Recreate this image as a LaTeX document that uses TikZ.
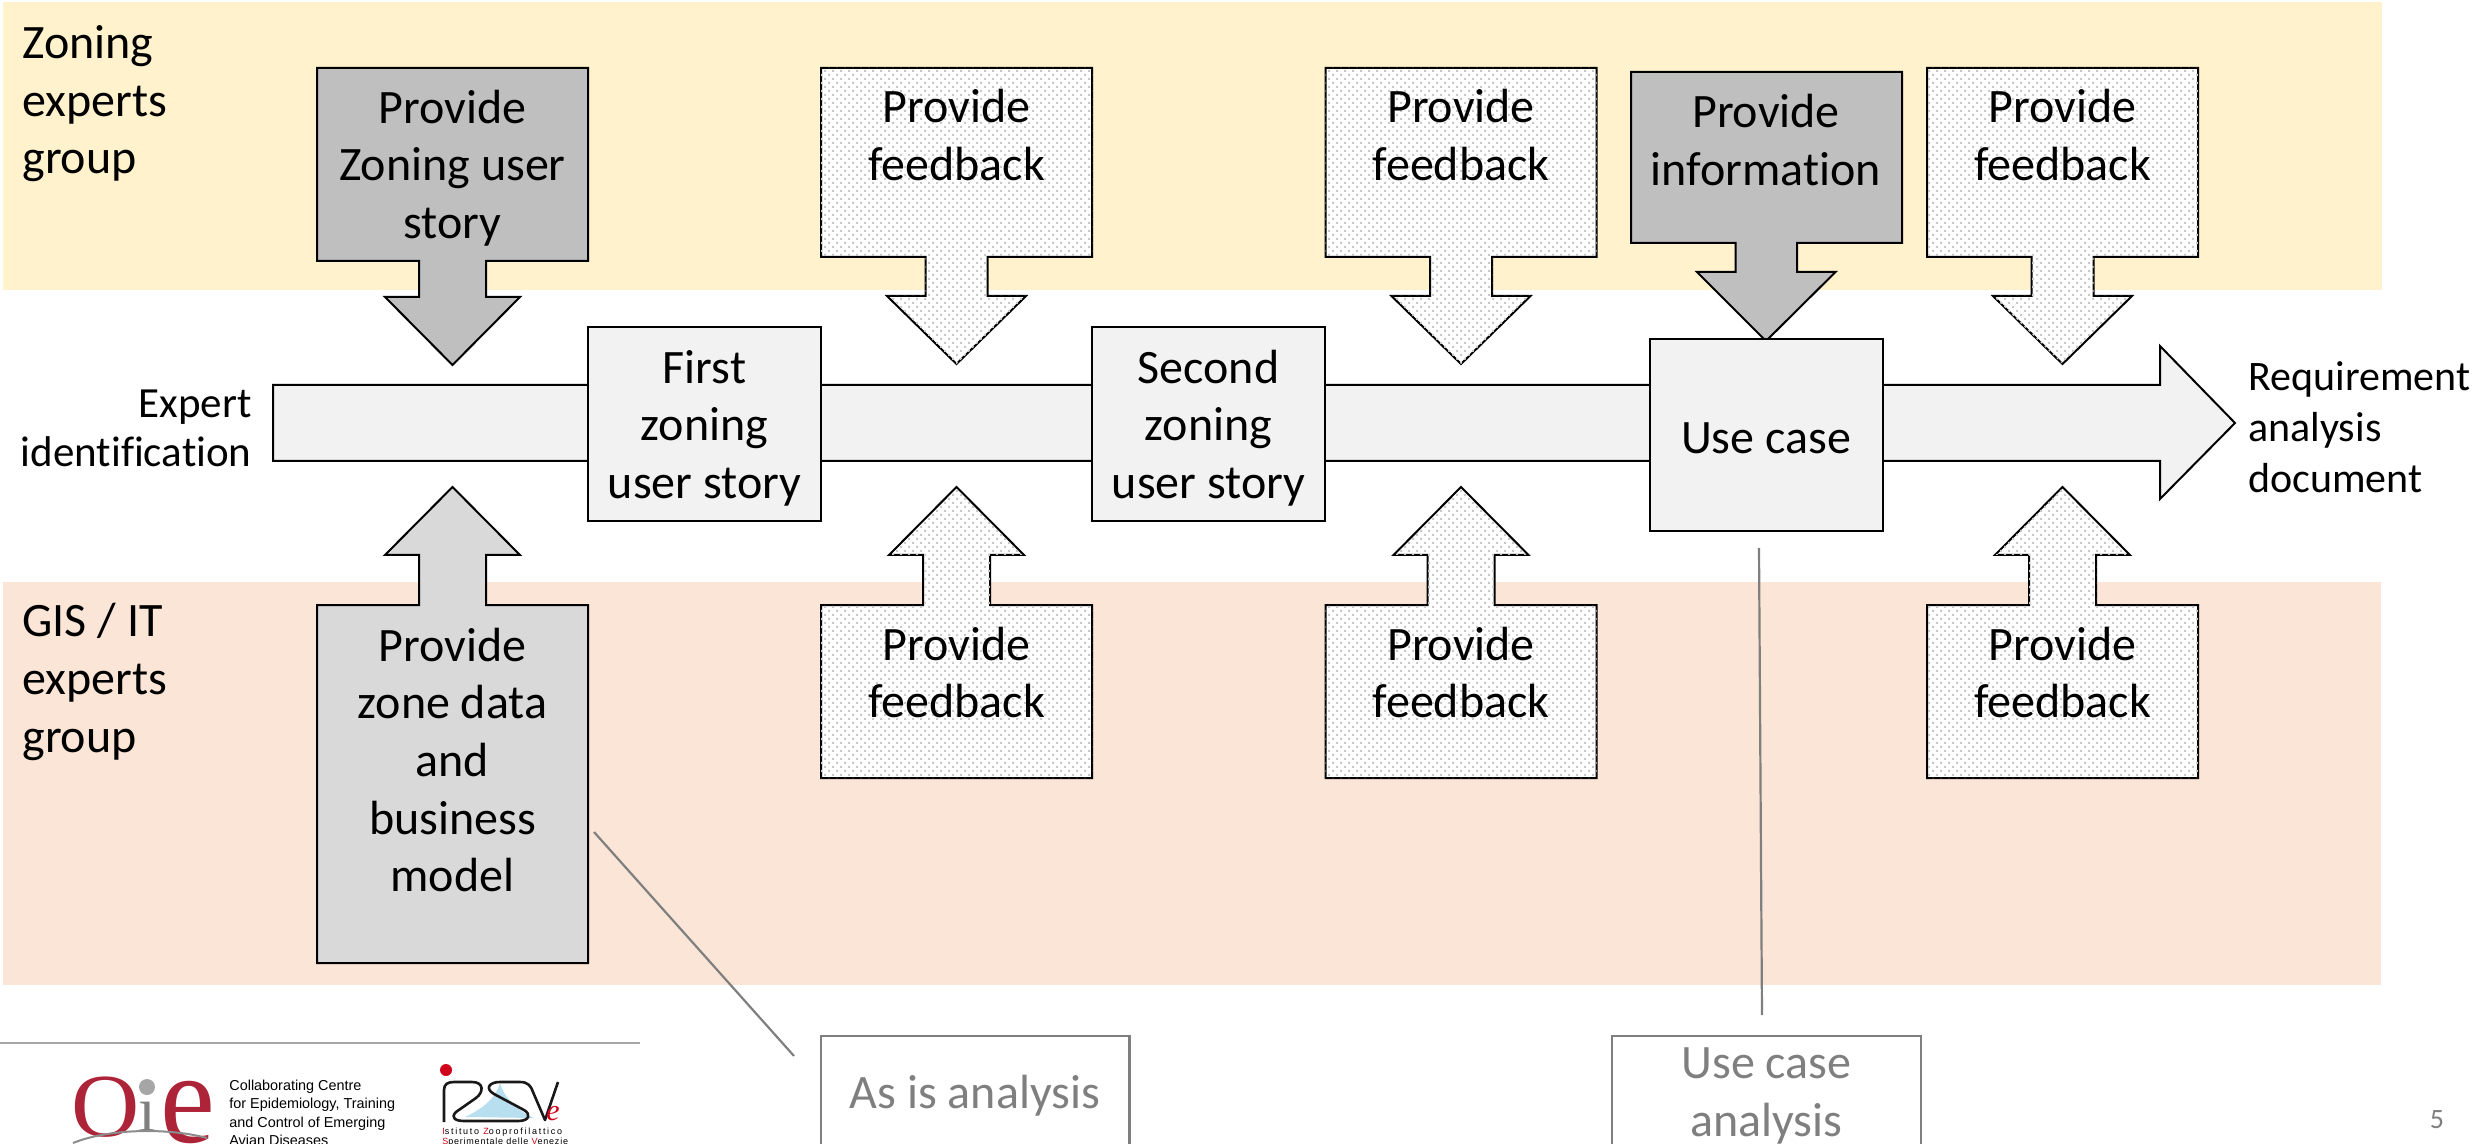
\documentclass[tikz,border=0pt]{standalone}
\usepackage{fontspec}
\setmainfont{Carlito}[Ligatures=NoCommon]
\newfontfamily\arialf{Liberation Sans}
\newfontfamily\serifl{Liberation Serif}
\newfontfamily\spacedA[LetterSpace=19]{Liberation Sans}
\newfontfamily\spacedB[LetterSpace=8.5]{Liberation Sans}
\usetikzlibrary{patterns}
\definecolor{bandY}{HTML}{FFF2CC}
\definecolor{bandO}{HTML}{FBE5D6}
\definecolor{darkG}{HTML}{BFBFBF}
\definecolor{dotG}{HTML}{C8C8C8}
\definecolor{midG}{HTML}{D9D9D9}
\definecolor{liteG}{HTML}{F2F2F2}
\definecolor{capG}{HTML}{7F7F7F}
\definecolor{oieR}{HTML}{AD2438}
\definecolor{izsR}{HTML}{D0021B}
\definecolor{izsB}{HTML}{B8DFF0}
\pgfdeclarepatternformonly{stip}{\pgfqpoint{-0.5pt}{-0.5pt}}{\pgfqpoint{3.5pt}{3.5pt}}{\pgfqpoint{4pt}{4pt}}{%
  \pgfpathrectangle{\pgfqpoint{0pt}{0pt}}{\pgfqpoint{1pt}{1pt}}%
  \pgfpathrectangle{\pgfqpoint{2pt}{2pt}}{\pgfqpoint{1pt}{1pt}}%
  \pgfusepath{fill}}
\tikzset{
  outl/.style={draw=black,line width=1pt,line join=miter},
  solidbox/.style={outl,fill=darkG},
  lowbox/.style={outl,fill=midG},
  dotted box/.style={outl,fill=white,postaction={pattern=stip,pattern color=dotG}},
  stagebox/.style={draw=black,line width=1pt,fill=liteG,inner sep=0pt,minimum width=116.5pt},
  boxtxt/.style={align=center,inner sep=0pt,font=\fontsize{24}{28.8}\selectfont},
  sidetxt/.style={align=left,inner sep=0pt,font=\fontsize{24}{28.8}\selectfont},
  graytxt/.style={boxtxt,text=capG},
  graybox/.style={draw=capG,line width=1.25pt},
  leader/.style={draw=capG,line width=1.1pt},
}
% style, cx, halfwidth, top, boxbottom
\newcommand\dcall[5]{\path[#1] ({#2-#3},#4) -- ({#2+#3},#4) -- ({#2+#3},#5) -- ({#2+31},#5) -- ({#2+31},{#5+39}) -- ({#2+69.5},{#5+39}) -- (#2,{#5+107}) -- ({#2-69.5},{#5+39}) -- ({#2-31},{#5+39}) -- ({#2-31},#5) -- ({#2-#3},#5) -- cycle;}
% style, cx, bottom
\newcommand\ucall[3]{\path[#1] (#2-135.5,#3) -- (#2+135.5,#3) -- (#2+135.5,605) -- (#2+33.5,605) -- (#2+33.5,555) -- (#2+67.5,555) -- (#2,487) -- (#2-67.5,555) -- (#2-33.5,555) -- (#2-33.5,605) -- (#2-135.5,605) -- cycle;}
\begin{document}
\begin{tikzpicture}[x=0.5pt,y=-0.5pt]
\useasboundingbox (0,0) rectangle (2491,1144);
\clip (0,0) rectangle (2491,1144);
% bands
\fill[bandY] (3,2) rectangle (2382,290);
\fill[bandO] (3,582) rectangle (2381,985);
% main arrow
\path[outl,fill=liteG] (273,385) -- (2160,385) -- (2160,346) -- (2235,423) -- (2160,499) -- (2160,461) -- (273,461) -- cycle;
% zoning callout
\path[solidbox] (317,68) -- (588,68) -- (588,261) -- (486,261) -- (486,297) -- (520,297) -- (452.5,365) -- (385,297) -- (419,297) -- (419,261) -- (317,261) -- cycle;
\node[boxtxt] (zoning) at (452.5,168) {Provide\\Zoning user\\story};
% feedback top
\dcall{dotted box}{956.5}{135.5}{68}{257}
\node[boxtxt] (fb1) at (956.5,135) {Provide\\feedback};
\dcall{dotted box}{1461}{135.5}{68}{257}
\node[boxtxt] (fb2) at (1461,135) {Provide\\feedback};
\dcall{dotted box}{2062.5}{135.5}{68}{257}
\node[boxtxt] (fb3) at (2062.5,135) {Provide\\feedback};
% information callout
\path[solidbox] (1631,72) -- (1902,72) -- (1902,243) -- (1797,243) -- (1797,272) -- (1835.5,272) -- (1766,341) -- (1697,272) -- (1735.5,272) -- (1735.5,243) -- (1631,243) -- cycle;
% stage boxes
\node[stagebox,minimum height=97pt] (first) at (704.5,424) {};
\node[boxtxt] (firstt) at (704.5,428) {First\\zoning\\user story};
\node[stagebox,minimum height=97pt] (second) at (1208.5,424) {};
\node[boxtxt] (secondt) at (1208.5,428) {Second\\zoning\\user story};
\node[stagebox,minimum height=96pt] (usecase) at (1766,435) {};
\node[boxtxt] (usecaset) at (1766,438) {Use case};
\node[boxtxt] (info) at (1766,140) {Provide\\information};
% lower callouts
\ucall{lowbox}{452.5}{963}
\node[boxtxt] (zone) at (452.5,760) {Provide\\zone data\\and\\business\\model};
\ucall{dotted box}{956.5}{778}
\node[boxtxt] (lb1) at (956.5,672.5) {Provide\\feedback};
\ucall{dotted box}{1461}{778}
\node[boxtxt] (lb2) at (1461,672.5) {Provide\\feedback};
\ucall{dotted box}{2062.5}{778}
\node[boxtxt] (lb3) at (2062.5,672.5) {Provide\\feedback};
% side labels
\node[sidetxt,anchor=west] (zlabel) at (22,104) {Zoning\\experts\\group};
\node[sidetxt,anchor=west] (glabel) at (22,682) {GIS / IT\\experts\\group};
\node[align=right,inner sep=0pt,anchor=east,font=\fontsize{21.5}{24.6}\selectfont] (expert) at (252,428) {Expert\\identification};
\node[align=left,inner sep=0pt,anchor=west,font=\fontsize{21}{25.5}\selectfont] (req) at (2248,427) {Requirement\\analysis\\document};
% bottom grey boxes
\draw[graybox] (821,1200) -- (821,1036) -- (1129.5,1036) -- (1129.5,1200);
\node[graytxt] (asis) at (975,1096) {As is analysis};
\draw[graybox] (1612,1200) -- (1612,1036) -- (1921,1036) -- (1921,1200);
\node[graytxt] (uca) at (1766.5,1096) {Use case\\analysis};
\coordinate (l1a) at (594,832);
\coordinate (l1b) at (794,1056);
\coordinate (l2a) at (1759,548);
\coordinate (l2b) at (1762,1015);
\draw[leader] (l1a) -- (l1b);
\draw[leader] (l2a) -- (l2b);
% page number
\node[inner sep=0pt,text=capG,font=\fontsize{14}{16}\selectfont] (pg) at (2437,1120) {5};
% logo strip
\draw[line width=0.7pt,draw=black!35] (0,1043) -- (640,1043);
\node[inner sep=0pt,text=oieR,xscale=1.05,font=\fontsize{45}{50}\serifl\selectfont] (oieO) at (106,1107) {O};
\node[inner sep=0pt,text=oieR,xscale=.95,font=\fontsize{65}{70}\serifl\selectfont] (oieE) at (188,1113) {e};
\node[inner sep=0pt,text=black!50,font=\fontsize{32}{36}\serifl\selectfont] (oieI) at (147.5,1117) {ı};
\fill[black!35] (147,1087) circle (8);
\draw[black!45,line width=1pt] (73,1143) .. controls (110,1128) and (170,1128) .. (207,1138);
\node[anchor=west,inner sep=0pt,align=left,font=\fontsize{7.2}{9.25}\arialf\selectfont] (cc) at (229,1113) {Collaborating Centre\\for Epidemiology, Training\\and Control of Emerging\\Avian Diseases};
\fill[izsR] (446,1070) circle (6);
\fill[izsB] (465,1117) .. controls (480,1110) and (495,1100) .. (500,1083) .. controls (505,1100) and (520,1112) .. (534,1118) -- cycle;
\draw[black!90,line width=1.3pt,line join=round] (444,1122) -- (444,1090) .. controls (444,1084) and (448,1082) .. (454,1082) -- (472,1082) .. controls (484,1082) and (484,1092) .. (476,1098) -- (456,1112) .. controls (450,1118) and (456,1121) .. (464,1121) -- (518,1121) .. controls (530,1121) and (531,1114) .. (524,1110) -- (494,1094) .. controls (484,1088) and (490,1082) .. (500,1082) -- (520,1082) .. controls (528,1082) and (531,1086) .. (533,1092) -- (545,1120) -- (558,1082);
\node[inner sep=0pt,text=izsR,font=\fontsize{15}{16}\serifl\itshape\selectfont] (izse) at (553,1114) {e};
\node[anchor=west,inner sep=0pt,font=\fontsize{4.5}{5}\spacedA\selectfont] (izs1) at (442,1132) {\textcolor{izsR}{I}stituto \textcolor{izsR}{Z}ooprofilattico};
\node[anchor=west,inner sep=0pt,font=\fontsize{4.5}{5}\spacedB\selectfont] (izs2) at (442,1142) {\textcolor{izsR}{S}perimentale delle \textcolor{izsR}{V}enezie};
\end{tikzpicture}
\end{document}
